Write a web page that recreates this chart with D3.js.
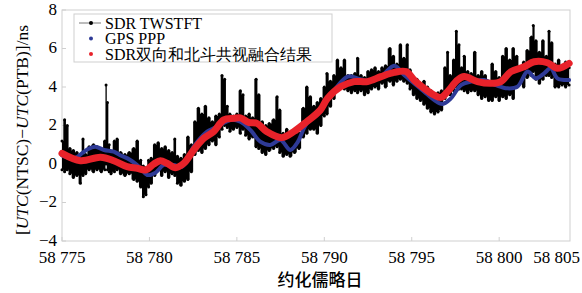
<!DOCTYPE html>
<html>
<head>
<meta charset="utf-8">
<script src="https://cdn.jsdelivr.net/npm/d3@7"></script>
<style>
  body { margin: 0; background: #fff; }
  svg text { font-family: "Liberation Serif", "Times New Roman", serif; }
  svg text.cjk { font-family: "Noto Sans CJK SC", sans-serif; }
</style>
</head>
<body>
<div id="chart"></div>
<script>
// DATA

// SDR TWSTFT: dense point cloud, kept as [mjd, low, high] of the cloud
const twstftCloud = [
  [58775.0, -0.3, 1.2], [58775.15, -0.4, 2.3], [58775.3, -0.3, 2.0], [58775.45, -0.5, 0.8],
  [58775.65, -0.7, 0.7], [58775.85, -0.6, 0.6], [58776.05, -1.0, 0.5], [58776.2, -0.6, 1.3],
  [58776.35, -0.5, 0.5], [58776.55, -0.3, 0.9], [58776.8, -0.4, 1.0], [58777.0, -0.3, 0.9],
  [58777.25, -0.4, 0.8], [58777.45, -0.3, 1.2], [58777.52, 0.0, 4.1], [58777.6, -0.3, 3.2],
  [58777.7, -0.4, 1.0], [58777.8, -0.5, 0.6], [58778.0, -0.4, 1.2], [58778.15, -0.3, 1.3],
  [58778.35, -0.5, 0.6], [58778.6, -0.6, 0.5], [58778.85, -0.5, 0.6], [58779.1, -0.8, 0.8],
  [58779.3, -0.9, 1.2], [58779.5, -1.2, 0.2], [58779.65, -1.7, -0.1], [58779.8, -1.6, -0.2],
  [58779.95, -1.2, 0.2], [58780.1, -1.0, 0.3], [58780.3, -0.6, 1.0], [58780.5, -0.3, 1.1],
  [58780.7, -0.6, 0.8], [58780.9, -0.4, 0.9], [58781.1, -0.7, 0.7], [58781.3, -0.5, 0.6],
  [58781.45, -0.6, 1.3], [58781.6, -1.0, 0.4], [58781.8, -1.1, 0.3], [58782.0, -0.9, 0.5],
  [58782.2, -0.8, 1.4], [58782.4, -0.4, 1.0], [58782.6, 0.5, 2.2], [58782.8, 0.7, 2.9],
  [58783.0, 0.6, 2.6], [58783.2, 0.8, 3.0], [58783.4, 1.0, 2.4], [58783.6, 1.2, 2.2],
  [58783.8, 1.0, 2.5], [58784.0, 1.4, 2.6], [58784.15, 1.8, 4.6], [58784.3, 2.0, 4.4],
  [58784.45, 1.9, 3.0], [58784.6, 1.7, 2.6], [58784.8, 1.8, 2.5], [58785.0, 1.9, 2.6],
  [58785.2, 1.6, 3.8], [58785.35, 1.8, 3.6], [58785.5, 1.5, 2.5], [58785.7, 1.3, 2.6],
  [58785.9, 1.4, 2.4], [58786.1, 0.9, 4.4], [58786.25, 0.8, 3.6], [58786.45, 0.6, 2.2],
  [58786.65, 0.5, 2.0], [58786.85, 0.7, 2.1], [58787.1, 0.8, 2.3], [58787.3, 0.9, 3.5],
  [58787.45, 0.6, 2.8], [58787.65, 0.4, 1.6], [58787.85, 0.5, 1.8], [58788.05, 0.4, 1.5],
  [58788.3, 0.6, 1.7], [58788.55, 0.8, 1.6], [58788.8, 1.4, 2.9], [58789.0, 1.6, 4.0],
  [58789.2, 1.8, 3.5], [58789.4, 1.8, 3.0], [58789.6, 1.6, 3.2], [58789.8, 2.0, 3.4],
  [58790.0, 2.5, 4.0], [58790.15, 2.6, 4.7], [58790.35, 3.0, 4.3], [58790.55, 3.4, 4.6],
  [58790.75, 3.9, 5.4], [58790.95, 4.0, 5.0], [58791.15, 3.9, 5.4], [58791.35, 3.8, 4.6],
  [58791.55, 3.7, 4.6], [58791.75, 3.8, 4.7], [58791.9, 3.7, 5.5], [58792.1, 3.8, 4.6],
  [58792.3, 3.6, 4.5], [58792.5, 3.7, 4.8], [58792.7, 3.9, 4.9], [58792.9, 4.0, 5.0],
  [58793.1, 3.9, 4.8], [58793.3, 4.2, 5.0], [58793.5, 4.0, 5.1], [58793.75, 4.3, 6.0],
  [58793.95, 4.1, 5.6], [58794.15, 4.3, 5.2], [58794.35, 4.4, 6.2], [58794.55, 4.3, 5.5],
  [58794.75, 4.2, 6.2], [58794.9, 3.9, 4.9], [58795.1, 3.6, 4.4], [58795.3, 3.4, 4.4],
  [58795.5, 3.3, 4.2], [58795.7, 3.1, 4.3], [58795.9, 2.9, 4.0], [58796.1, 2.7, 3.8],
  [58796.3, 2.6, 3.6], [58796.5, 2.7, 3.7], [58796.7, 2.8, 3.8], [58796.9, 3.4, 5.0],
  [58797.05, 3.8, 5.8], [58797.2, 3.6, 4.6], [58797.4, 3.8, 5.4], [58797.55, 4.0, 6.9],
  [58797.7, 3.9, 6.2], [58797.85, 3.9, 5.0], [58798.0, 3.8, 5.6], [58798.2, 3.7, 4.8],
  [58798.4, 3.8, 4.7], [58798.6, 3.8, 5.8], [58798.8, 3.6, 4.6], [58799.0, 3.4, 4.8],
  [58799.2, 3.5, 4.6], [58799.4, 3.3, 4.3], [58799.6, 3.3, 5.2], [58799.8, 3.5, 4.8],
  [58800.0, 3.3, 4.5], [58800.2, 3.5, 5.6], [58800.4, 3.4, 6.0], [58800.6, 3.6, 5.4],
  [58800.8, 3.4, 6.0], [58801.0, 4.0, 5.6], [58801.2, 4.2, 5.0], [58801.4, 4.0, 5.3],
  [58801.6, 4.5, 5.9], [58801.85, 4.6, 6.6], [58801.95, 4.8, 7.2], [58802.1, 4.4, 6.4],
  [58802.3, 4.2, 5.8], [58802.5, 4.4, 6.4], [58802.7, 4.6, 5.6], [58802.85, 4.6, 6.9],
  [58803.0, 4.5, 6.3], [58803.2, 4.0, 5.2], [58803.4, 4.0, 5.4], [58803.6, 4.1, 5.0],
  [58803.8, 4.0, 5.3], [58804.0, 4.1, 5.0]
];

// GPS PPP
const pppMjd = [58775.0, 58775.7, 58776.4, 58776.9, 58777.4, 58777.96, 58778.3, 58778.9,
  58779.5, 58779.87, 58780.34, 58780.82, 58781.39, 58781.87, 58782.53, 58783.3, 58783.67,
  58784.06, 58784.63, 58785.2, 58785.77, 58786.34, 58786.91, 58787.49, 58788.06, 58788.44,
  58789.0, 58789.77, 58790.19, 58791.33, 58791.9, 58792.47, 58793.24, 58794.0, 58794.57,
  58795.14, 58795.71, 58796.29, 58796.76, 58797.24, 58797.81, 58798.38, 58799.14, 58799.81,
  58800.48, 58801.05, 58801.62, 58802.1, 58802.57, 58802.95, 58803.33, 58804.0];
const pppVal = [0.45, 0.3, 0.73, 0.9, 0.73, 0.64, 0.47, 0.21,
  -0.22, -0.57, -0.45, -0.05, -0.05, -0.14, 0.9, 1.68, 1.85,
  2.03, 2.29, 2.2, 1.77, 1.16, 0.99, 1.25, 0.73, 1.08,
  2.11, 2.72, 3.35, 4.54, 4.45, 4.33, 4.54, 5.1, 4.62,
  4.19, 3.76, 3.32, 3.12, 3.41, 4.1, 4.28, 4.36, 4.1,
  3.93, 4.02, 4.8, 4.45, 4.71, 4.97, 4.45, 4.36];

// SDR two-way + BDS common-view fusion
const fusedMjd = [58775.0, 58776.06, 58777.2, 58777.96, 58778.72, 58779.3, 58779.77, 58780.25,
  58780.63, 58781.0, 58781.49, 58781.96, 58782.53, 58783.1, 58783.67, 58784.25, 58784.82,
  58785.2, 58785.67, 58786.15, 58786.72, 58787.58, 58788.25, 58789.0, 58789.77, 58790.19,
  58790.95, 58791.71, 58792.47, 58793.24, 58794.0, 58794.67, 58795.14, 58795.71, 58796.29,
  58796.67, 58797.05, 58797.62, 58798.0, 58798.76, 58799.53, 58800.1, 58800.67, 58801.43,
  58802.0, 58802.76, 58803.33, 58804.0];
const fusedVal = [0.55, 0.17, 0.35, 0.17, -0.14, -0.22, -0.31, 0.0,
  0.17, 0.04, -0.19, 0.03, 0.73, 1.33, 1.68, 2.29, 2.37,
  2.4, 2.16, 2.11, 1.68, 1.37, 1.68, 2.2, 2.8, 3.41,
  4.02, 4.28, 4.28, 4.54, 4.76, 4.8, 4.36, 3.93, 3.58,
  3.46, 3.76, 4.36, 4.54, 4.28, 4.19, 4.28, 4.8, 5.05,
  5.31, 5.26, 4.97, 5.23];

const xTicks = [58775, 58780, 58785, 58790, 58795, 58800];
const yTicks = [-4, -2, 0, 2, 4, 6, 8];
const seriesNames = ["SDR TWSTFT", "GPS PPP", "SDR双向和北斗共视融合结果"];

// LAYOUT
const width = 582;
const height = 293;
const margin = { left: 62, right: 12, top: 10, bottom: 52 };
const axisGray = "#cfcfcf";
const blue = "#2e3a96";
const red = "#e8222a";

const svg = d3.select("#chart").append("svg")
  .attr("width", width)
  .attr("height", height)
  .style("background", "#fff");

const x = d3.scaleLinear()
  .domain([58775, 58804.05])
  .range([margin.left, width - margin.right]);

const y = d3.scaleLinear()
  .domain([-4, 8])
  .range([height - margin.bottom, margin.top]);

// FRAME
svg.append("rect")
  .attr("x", x.range()[0])
  .attr("y", y.range()[1])
  .attr("width", x.range()[1] - x.range()[0])
  .attr("height", y.range()[0] - y.range()[1])
  .attr("fill", "none")
  .attr("stroke", axisGray)
  .attr("stroke-width", 1);

// TICKS (inward)
svg.append("g").selectAll("line").data(xTicks).join("line")
  .attr("x1", (d) => x(d)).attr("x2", (d) => x(d))
  .attr("y1", y(-4)).attr("y2", y(-4) - 4)
  .attr("stroke", axisGray);

svg.append("g").selectAll("line").data(yTicks).join("line")
  .attr("x1", x(58775)).attr("x2", x(58775) + 4)
  .attr("y1", (d) => y(d)).attr("y2", (d) => y(d))
  .attr("stroke", axisGray);

// DATA MARKS
const plot = svg.append("g");

// TWSTFT cloud, drawn as columns with dotted edges
plot.append("path")
  .datum(twstftCloud)
  .attr("d", d3.area()
    .x((d) => x(d[0]))
    .y0((d) => y(d[1]))
    .y1((d) => y(d[2]))
    .curve(d3.curveStep))
  .attr("fill", "#000");

plot.append("g").selectAll("circle")
  .data(twstftCloud.flatMap((d) => [[d[0], d[1]], [d[0], d[2]]]))
  .join("circle")
  .attr("cx", (d) => x(d[0]))
  .attr("cy", (d) => y(d[1]))
  .attr("r", 1.5)
  .attr("fill", "#000");

// GPS PPP
plot.append("path")
  .datum(d3.zip(pppMjd, pppVal))
  .attr("d", d3.line()
    .x((d) => x(d[0]))
    .y((d) => y(d[1]))
    .curve(d3.curveCatmullRom))
  .attr("fill", "none")
  .attr("stroke", blue)
  .attr("stroke-width", 4)
  .attr("stroke-linecap", "round");

// Fusion result
plot.append("path")
  .datum(d3.zip(fusedMjd, fusedVal))
  .attr("d", d3.line()
    .x((d) => x(d[0]))
    .y((d) => y(d[1]))
    .curve(d3.curveCatmullRom))
  .attr("fill", "none")
  .attr("stroke", red)
  .attr("stroke-width", 7)
  .attr("stroke-linecap", "round")
  .attr("stroke-linejoin", "round");

// TICK LABELS
const fmtMjd = (d) => String(d).replace(/^(\d\d)/, "$1 ");

svg.append("g").selectAll("text").data(xTicks).join("text")
  .attr("x", (d) => x(d))
  .attr("y", 263)
  .attr("text-anchor", "middle")
  .style("font-size", "17px")
  .text(fmtMjd);

// last label sits at the right end of the axis
svg.append("text")
  .attr("x", x.range()[1] + 10)
  .attr("y", 263)
  .attr("text-anchor", "end")
  .style("font-size", "17px")
  .text(fmtMjd(58805));

svg.append("g").selectAll("text").data(yTicks).join("text")
  .attr("x", 57)
  .attr("y", (d) => y(d) + 4.5)
  .attr("text-anchor", "end")
  .style("font-size", "17px")
  .text((d) => (d < 0 ? "\u2212" + Math.abs(d) : d));

// AXIS TITLES
svg.append("text")
  .attr("class", "cjk")
  .attr("x", 320)
  .attr("y", 286)
  .attr("text-anchor", "middle")
  .style("font-size", "17px")
  .style("font-weight", 500)
  .text("约化儒略日");

const yTitle = svg.append("text")
  .attr("transform", "translate(28,130) rotate(-90)")
  .attr("text-anchor", "middle")
  .style("font-size", "17.5px");
yTitle.append("tspan").text("[");
yTitle.append("tspan").style("font-style", "italic").text("UTC");
yTitle.append("tspan").text("(NTSC)\u2212");
yTitle.append("tspan").style("font-style", "italic").text("UTC");
yTitle.append("tspan").text("(PTB)]/ns");

// LEGEND
const legend = svg.append("g").attr("transform", "translate(74,14)");

legend.append("rect")
  .attr("width", 258)
  .attr("height", 48)
  .attr("fill", "#fff")
  .attr("stroke", axisGray);

const legendColors = ["#000", blue, red];

legend.append("line")
  .attr("x1", 5).attr("x2", 27)
  .attr("y1", 9).attr("y2", 9)
  .attr("stroke", "#555")
  .attr("stroke-width", 0.8);

legend.selectAll("circle.key").data(seriesNames).join("circle")
  .attr("class", "key")
  .attr("cx", 17)
  .attr("cy", (d, i) => 9 + i * 15.5)
  .attr("r", 2)
  .attr("fill", (d, i) => legendColors[i]);

legend.selectAll("text").data(seriesNames).join("text")
  .attr("x", 31)
  .attr("y", (d, i) => 14.5 + i * 15.5)
  .style("font-size", "16px")
  .text((d) => d);
</script>
</body>
</html>
